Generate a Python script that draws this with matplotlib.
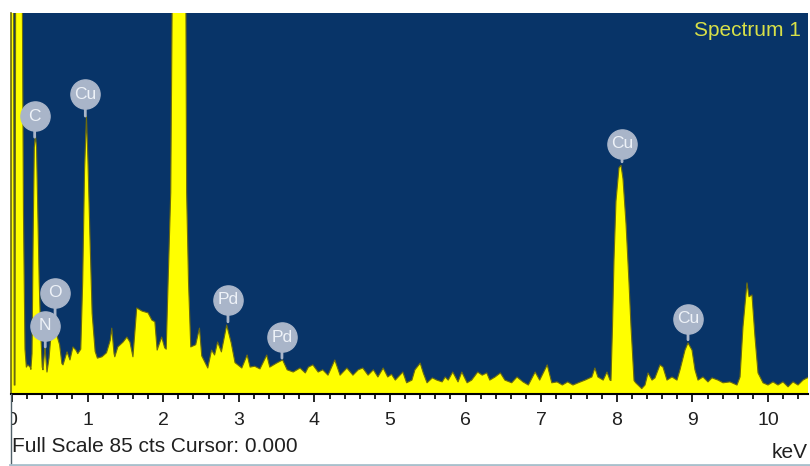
import matplotlib
matplotlib.use("Agg")
import matplotlib.pyplot as plt
from matplotlib.lines import Line2D
from matplotlib.transforms import offset_copy, Bbox

# EDS spectrum: energy (keV) and counts
energy = [-0.013, 0.0, 0.02, 0.03, 0.04, 0.05, 0.13, 0.152, 0.172, 0.19, 0.21, 0.24,
          0.25, 0.265, 0.28, 0.295, 0.31, 0.325, 0.34, 0.36, 0.38, 0.40, 0.41,
          0.437, 0.463, 0.49, 0.51, 0.56, 0.595, 0.63, 0.66, 0.675, 0.728, 0.767,
          0.807, 0.845, 0.87, 0.91, 0.935, 0.96, 0.985, 1.005, 1.03, 1.06, 1.10,
          1.13, 1.19, 1.25, 1.30, 1.32, 1.35, 1.36, 1.40, 1.47, 1.52, 1.56, 1.60,
          1.65, 1.72, 1.80, 1.85, 1.89, 1.92, 1.98, 2.02, 2.04, 2.065, 2.10, 2.12,
          2.16, 2.21, 2.26, 2.30, 2.31, 2.335, 2.365, 2.43, 2.48, 2.51, 2.59, 2.64,
          2.68, 2.72, 2.77, 2.84, 2.90, 2.95, 3.04, 3.11, 3.15, 3.21, 3.28, 3.37,
          3.41, 3.50, 3.58, 3.64, 3.72, 3.81, 3.88, 3.92, 3.98, 4.05, 4.11, 4.18,
          4.27, 4.34, 4.43, 4.51, 4.58, 4.64, 4.71, 4.78, 4.84, 4.91, 4.97, 5.02,
          5.07, 5.17, 5.22, 5.29, 5.33, 5.40, 5.44, 5.49, 5.56, 5.62, 5.69, 5.73,
          5.77, 5.83, 5.90, 5.95, 6.02, 6.08, 6.16, 6.22, 6.28, 6.32, 6.39, 6.46,
          6.52, 6.61, 6.68, 6.76, 6.83, 6.92, 6.98, 7.08, 7.14, 7.21, 7.28, 7.35,
          7.42, 7.49, 7.58, 7.67, 7.71, 7.75, 7.82, 7.87, 7.91, 7.923, 7.943,
          7.963, 7.989, 8.029, 8.056, 8.082, 8.122, 8.161, 8.188, 8.228, 8.25,
          8.33, 8.373, 8.413, 8.466, 8.505, 8.571, 8.611, 8.664, 8.730, 8.796,
          8.836, 8.902, 8.942, 8.995, 9.034, 9.074, 9.140, 9.206, 9.259, 9.339,
          9.405, 9.497, 9.590, 9.630, 9.669, 9.722, 9.749, 9.788, 9.828, 9.868,
          9.934, 10.0, 10.066, 10.132, 10.198, 10.265, 10.331, 10.397, 10.463,
          10.516, 10.556]
counts = [110, 110, 110, 2, 2, 110, 110, 40, 10, 6, 6.5, 6,
          5.5, 9, 35, 55, 57.8, 55, 42, 25, 14, 6, 5.4,
          10.5, 4.9, 8, 12, 12.7, 13, 11, 6.8, 6.5, 9.4, 7.6,
          10.5, 9.8, 9, 10, 25, 50, 62, 52, 36, 18, 9.5,
          8, 8.3, 9.2, 12, 14.7, 9, 8.3, 10.5, 11.6, 12.7, 11.6, 8.3,
          19.2, 18.5, 18.1, 16.5, 16.1, 9.8, 12.7, 10.3, 10, 25, 45, 90,
          110, 115, 105, 90, 45, 25, 10.5, 11, 14.7, 8.5, 5.8, 9.8,
          8.7, 11.6, 9.4, 15.4, 11.4, 7, 5.8, 8.7, 6, 6.2, 5.6, 8.7,
          6, 6.9, 7.6, 5.4, 4.9, 5.8, 4.7, 6, 6.5, 4.9, 5.4, 4.2,
          7.6, 4.2, 5.8, 4.2, 5.4, 5.8, 4.2, 5.4, 3.8, 5.8, 3.8, 4.4,
          3.1, 4.9, 2.5, 3.1, 5.4, 6.9, 4.7, 2.5, 3.6, 3.1, 2.7, 3.8,
          3.1, 4.9, 2.7, 4.9, 2.5, 3.1, 4.9, 4.2, 4.7, 3.1, 3.8, 4.7,
          3.1, 2.5, 3.8, 2.7, 2.0, 4.9, 3.1, 6.5, 2.5, 2.7, 2.0, 2.7,
          2.0, 2.5, 3.1, 3.8, 5.8, 3.8, 3.1, 4.9, 3.1, 3, 15,
          30, 43, 50.5, 51, 48, 38, 25, 15, 3, 2.5,
          1.2, 2.0, 4.7, 3.1, 3.6, 6.5, 6.0, 3.1, 3.8, 3.1,
          5.4, 9.8, 11.4, 9.8, 5.4, 3.1, 3.8, 2.7, 3.6, 3.1,
          2.5, 2.7, 2.0, 3.8, 15, 24.8, 21.7, 22.1, 12.7, 4.7,
          2.5, 2.0, 2.7, 2.0, 2.7, 1.6, 2.7, 2.0, 3.1,
          3.6, 3.6]

# element markers: name, energy, counts at stem foot, stem length (px)
lbl_names = ["C", "Cu", "O", "N", "Pd", "Pd", "Cu", "Cu"]
lbl_energy = [0.30, 0.97, 0.57, 0.44, 2.857, 3.571, 8.069, 8.942]
lbl_counts = [57.3, 62.0, 13.0, 10.5, 16.1, 8.0, 51.8, 12.1]
lbl_stem = [21, 22, 43, 21, 22, 21, 18, 21]

navy = "#083468"
yellow = "#ffff00"
olive = "#6b6b10"
badge = "#a9b5c9"

W, H = 810, 466
fig = plt.figure(figsize=(W / 100, H / 100), dpi=100)
ax = fig.add_axes([11 / W, (H - 394) / H, 797 / W, 381 / H])
ax.set_facecolor(navy)

ax.fill_between(energy, counts, 0, color=yellow, lw=0)
ax.plot(energy, counts, color=olive, lw=0.8)

ax.set_xlim(-0.013, 10.529)
ax.set_ylim(0, 85)
ax.set_yticks([])
ax.set_xticks(range(0, 11))
ax.set_xticks([i * 0.2 for i in range(53)], minor=True)
ax.tick_params(axis="x", which="major", length=6, width=1.2, direction="out", pad=7)
ax.tick_params(axis="x", which="minor", length=3.5, width=1.2, direction="out")
ax.set_xticklabels([str(i) for i in range(11)], fontfamily="Liberation Sans",
                   fontsize=14, color="#202020")
ax.get_xticklabels()[0].set_clip_box(Bbox([[11, 0], [W, H]]))
ax.get_xticklabels()[0].set_clip_on(True)

for s in ["top", "right"]:
    ax.spines[s].set_visible(False)
ax.spines["bottom"].set_color("black")
ax.spines["bottom"].set_linewidth(1.5)
ax.spines["left"].set_color(olive)
ax.spines["left"].set_linewidth(1.2)

# peak badges
for name, e, c, stem in zip(lbl_names, lbl_energy, lbl_counts, lbl_stem):
    tr = offset_copy(ax.transData, fig=fig, x=0, y=stem * 0.72, units="points")
    ax.annotate("", xy=(e, c), xytext=(0, stem * 0.72), textcoords="offset points",
                arrowprops=dict(arrowstyle="-", color=badge, lw=2, shrinkA=0, shrinkB=0))
    ax.plot(e, c, "o", ms=21, color=badge, mec=badge, transform=tr, clip_on=False)
    ax.text(e, c, name, transform=tr, ha="center", va="center", color="#eef2f8",
            fontsize=12.5, fontfamily="Liberation Sans")

ax.text(0.991, 0.955, "Spectrum 1", transform=ax.transAxes, ha="right", va="center",
        color="#d8e048", fontsize=15, fontfamily="Liberation Sans")

fig.text(12 / W, 1 - 447 / H, "Full Scale 85 cts Cursor: 0.000", ha="left", va="center",
         fontsize=15, fontfamily="Liberation Sans", color="#202020")
fig.text(808 / W, 1 - 452 / H, "keV", ha="right", va="center",
         fontsize=15, fontfamily="Liberation Sans", color="#202020")

# panel border below the plot
fig.add_artist(Line2D([11 / W, 11 / W], [0, (H - 394) / H], color="#506068", lw=1))
fig.add_artist(Line2D([10 / W, 1], [1.5 / H, 1.5 / H], color="#a8c0cc", lw=2))

fig.savefig("out.png", dpi=100, facecolor="white")
